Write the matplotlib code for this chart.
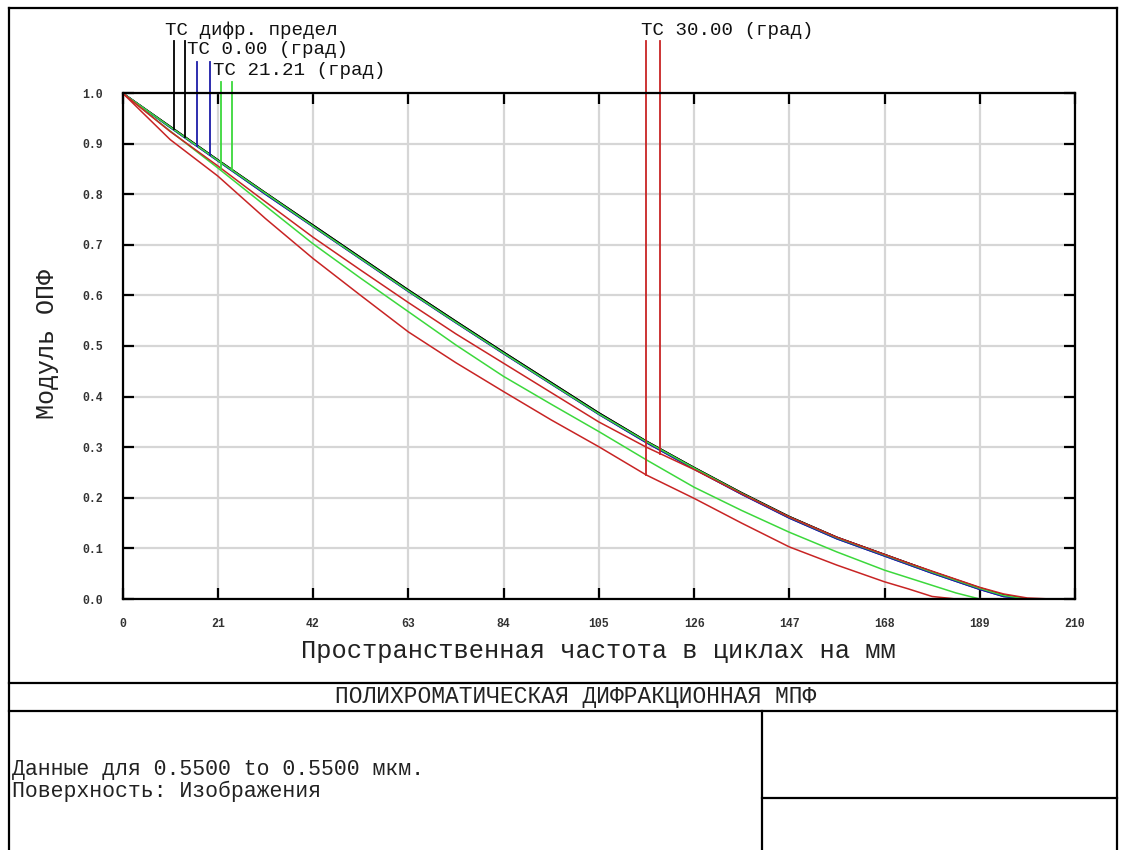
import matplotlib
matplotlib.use('Agg')
import matplotlib.pyplot as plt
import numpy as np
from matplotlib.lines import Line2D

# ---------------- data ----------------
freq = [0, 10.5, 21, 31.5, 42, 52.5, 63, 73.5, 84, 94.5, 105, 115.5, 126, 136.5,
        147, 157.5, 168, 173.25, 178.5, 183.75, 189, 194.25, 199.5, 204.75, 210]

diff_T = [1.000, 0.934, 0.868, 0.803, 0.739, 0.675, 0.611, 0.549, 0.488, 0.428, 0.368,
          0.312, 0.260, 0.210, 0.163, 0.122, 0.088, 0.071, 0.054, 0.038, 0.022, 0.008,
          0.0, 0.0, 0.0]
diff_S = diff_T
f00_T = [1.000, 0.932, 0.866, 0.800, 0.736, 0.672, 0.608, 0.546, 0.485, 0.425, 0.365,
         0.309, 0.257, 0.207, 0.160, 0.119, 0.085, 0.068, 0.051, 0.035, 0.019, 0.005,
         0.0, 0.0, 0.0]
f00_S = f00_T
f21_T = [1.000, 0.925, 0.852, 0.777, 0.702, 0.634, 0.568, 0.502, 0.440, 0.385, 0.331,
         0.275, 0.221, 0.175, 0.132, 0.093, 0.057, 0.042, 0.027, 0.012, 0.0, 0.0,
         0.0, 0.0, 0.0]
f21_S = [1.000, 0.933, 0.867, 0.802, 0.737, 0.673, 0.609, 0.547, 0.486, 0.426, 0.366,
         0.311, 0.259, 0.209, 0.162, 0.121, 0.087, 0.070, 0.053, 0.037, 0.021, 0.007,
         0.0, 0.0, 0.0]
f30_T = [1.000, 0.908, 0.836, 0.752, 0.673, 0.600, 0.528, 0.467, 0.410, 0.354, 0.301,
         0.245, 0.199, 0.150, 0.103, 0.067, 0.034, 0.020, 0.005, 0.0, 0.0, 0.0,
         0.0, 0.0, 0.0]
f30_S = [1.000, 0.924, 0.856, 0.785, 0.715, 0.650, 0.586, 0.524, 0.466, 0.408, 0.350,
         0.300, 0.256, 0.208, 0.162, 0.122, 0.088, 0.071, 0.055, 0.039, 0.023, 0.010,
         0.002, 0.0, 0.0]

x_ticks = [0, 21, 42, 63, 84, 105, 126, 147, 168, 189, 210]
x_tick_labels = ['0', '21', '42', '63', '84', '105', '126', '147', '168', '189', '210']
y_ticks = [0.0, 0.1, 0.2, 0.3, 0.4, 0.5, 0.6, 0.7, 0.8, 0.9, 1.0]
y_tick_labels = ['0.0', '0.1', '0.2', '0.3', '0.4', '0.5', '0.6', '0.7', '0.8', '0.9', '1.0']

legend_labels = ['TC дифр. предел', 'TC 0.00 (град)', 'TC 21.21 (град)', 'TC 30.00 (град)']
# legend marker frequencies (T, S) for each field
legend_marks = [(11.3, 13.8), (16.4, 19.3), (21.7, 24.2), (115.4, 118.5)]

xlabel = 'Пространственная частота в циклах на мм'
ylabel = 'Модуль ОПФ'
title = 'ПОЛИХРОМАТИЧЕСКАЯ ДИФРАКЦИОННАЯ МПФ'
info_lines = ['Данные для 0.5500 to 0.5500 мкм.', 'Поверхность: Изображения']

# ---------------- style ----------------
FONT = ['Liberation Mono', 'DejaVu Sans Mono']
plt.rcParams['font.family'] = FONT
c_black = '#000000'
c_blue = '#1c1ca8'
c_green = '#3cd83c'
c_red = '#c82424'

W, H = 1124, 850
fig = plt.figure(figsize=(W / 100, H / 100), dpi=100)
fig.patch.set_facecolor('white')

def fx(px):
    return px / W

def fy(py):
    return 1 - py / H

ax = fig.add_axes([fx(122.5), fy(599), fx(1075) - fx(122.5), fy(93) - fy(599)])
ax.set_xlim(0, 210)
ax.set_ylim(0, 1)
ax.set_axisbelow(True)
ax.grid(True, color='#d6d6d6', lw=1.6)
for sp in ax.spines.values():
    sp.set_linewidth(1.6)
    sp.set_color('black')

ax.set_xticks(x_ticks)
ax.set_xticklabels(x_tick_labels)
ax.set_yticks(y_ticks)
ax.set_yticklabels(y_tick_labels)
ax.tick_params(direction='in', length=8, width=1.6, top=True, right=True,
               labelsize=8.3, colors='black')
ax.tick_params(axis='x', pad=14)
ax.tick_params(axis='y', pad=14)
for lab in ax.get_xticklabels() + ax.get_yticklabels():
    lab.set_fontweight('bold')
    lab.set_color('#333333')

series = [(diff_T, c_black), (diff_S, c_black), (f00_T, c_blue), (f00_S, c_blue),
          (f21_T, c_green), (f21_S, c_green), (f30_T, c_red), (f30_S, c_red)]
for vals, col in series:
    ax.plot(freq, vals, color=col, lw=1.1)

# legend markers dropping to curves
legend_tops = [1.102, 1.062, 1.0223, 1.102]
legend_text_y = [1.1245, 1.085, 1.045, 1.1245]
legend_text_x = [9.4, 14.2, 19.9, 114.4]
legend_cols = [c_black, c_blue, c_green, c_red]
pairs = [(diff_T, diff_S), (f00_T, f00_S), (f21_T, f21_S), (f30_T, f30_S)]
for i in range(4):
    for j in range(2):
        f = legend_marks[i][j]
        yv = np.interp(f, freq, pairs[i][j])
        ax.plot([f, f], [legend_tops[i], yv], color=legend_cols[i], lw=1.3, clip_on=False)
    ax.text(legend_text_x[i], legend_text_y[i], legend_labels[i], fontsize=13.8,
            ha='left', va='center', clip_on=False, color='#111111')

ax.set_xlabel(xlabel, fontsize=18.4, color='#222222')
ax.xaxis.set_label_coords(0.5, -0.1028)
ax.xaxis.label.set_va('center')
ax.set_ylabel(ylabel, fontsize=18, color='#222222')
ax.yaxis.set_label_coords(-0.0792, 0.504)
ax.yaxis.label.set_va('center')

# frame lines
def fline(x0, y0, x1, y1):
    fig.add_artist(Line2D([fx(x0), fx(x1)], [fy(y0), fy(y1)], transform=fig.transFigure,
                          color='black', lw=1.6))

fline(9, 8, 1117, 8)
fline(9, 8, 9, 850)
fline(1117, 8, 1117, 850)
fline(9, 683, 1117, 683)
fline(9, 711, 1117, 711)
fline(762, 711, 762, 850)
fline(762, 798, 1117, 798)

fig.text(fx(575.5), fy(697), title, fontsize=16.5, ha='center', va='center', color='#222222')
fig.text(fx(12), fy(770), info_lines[0], fontsize=15.5, ha='left', va='center', color='#222222')
fig.text(fx(12), fy(791), info_lines[1], fontsize=15.5, ha='left', va='center', color='#222222')

fig.savefig('out.png', dpi=100, facecolor='white')
